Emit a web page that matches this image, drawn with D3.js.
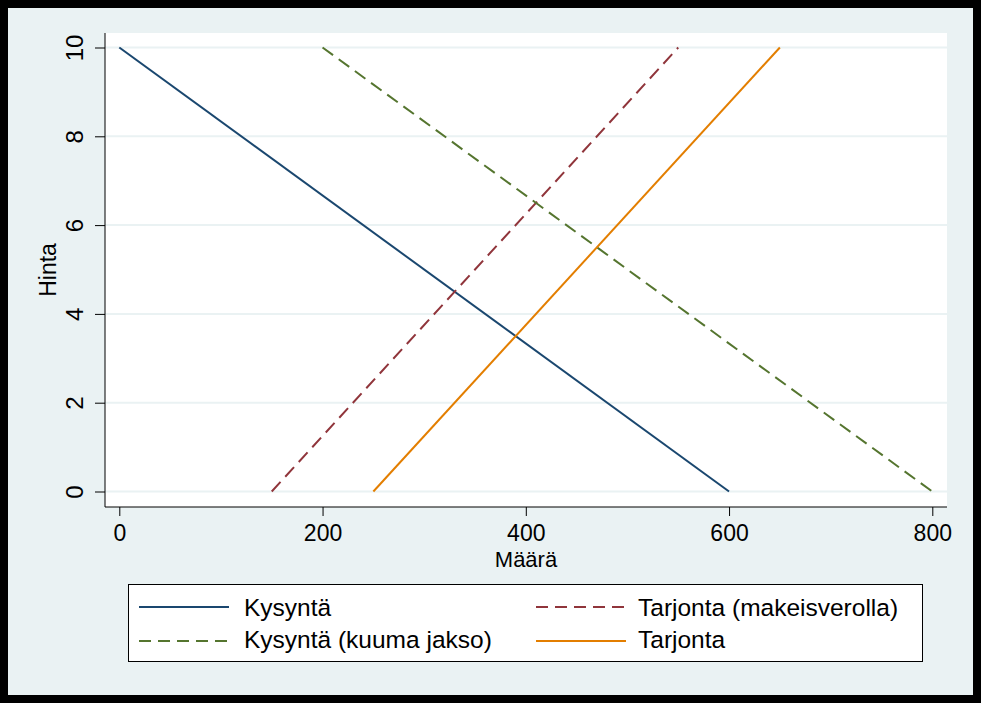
<!DOCTYPE html>
<html>
<head>
<meta charset="utf-8">
<script src="https://cdn.jsdelivr.net/npm/d3@7"></script>
<style>
  html, body { margin: 0; padding: 0; background: #000; }
  svg { display: block; }
  text { font-family: "Liberation Sans", Arial, sans-serif; fill: #000; }
</style>
</head>
<body>
<svg id="chart" width="981" height="703"></svg>
<script>
// Axis ticks
const priceTicks = [0, 2, 4, 6, 8, 10];
const qtyTicks = [0, 200, 400, 600, 800];

// Series (end points of each straight line)
const seriesNames = ['Kysyntä', 'Tarjonta (makeisverolla)', 'Kysyntä (kuuma jakso)', 'Tarjonta'];
const demandQ = [0, 600];
const demandP = [10, 0];
const taxSupplyQ = [150, 550];
const taxSupplyP = [0, 10];
const hotDemandQ = [200, 800];
const hotDemandP = [10, 0];
const supplyQ = [250, 650];
const supplyP = [0, 10];

const svg = d3.select('#chart');
const W = 981, H = 703;

// Stata s2color-ish styling
const styles = {
  'Kysyntä': { color: '#1a476f', dash: null },
  'Tarjonta (makeisverolla)': { color: '#90353b', dash: '13,7' },
  'Kysyntä (kuuma jakso)': { color: '#55752f', dash: '13,7' },
  'Tarjonta': { color: '#e37e00', dash: null }
};

const series = [
  { name: seriesNames[0], q: demandQ, p: demandP },
  { name: seriesNames[1], q: taxSupplyQ, p: taxSupplyP },
  { name: seriesNames[2], q: hotDemandQ, p: hotDemandP },
  { name: seriesNames[3], q: supplyQ, p: supplyP }
];

// outer frame + graph region
svg.append('rect').attr('width', W).attr('height', H).attr('fill', '#000');
svg.append('rect').attr('x', 8).attr('y', 8).attr('width', 965).attr('height', 687).attr('fill', '#eaf2f3');

const plot = { left: 105, right: 947, top: 33, bottom: 507 };
svg.append('rect').attr('x', plot.left).attr('y', plot.top)
  .attr('width', plot.right - plot.left).attr('height', plot.bottom - plot.top).attr('fill', '#fff');

const x = d3.scaleLinear().domain([0, 800]).range([119.3, 932.3]);
const y = d3.scaleLinear().domain([0, 10]).range([491.5, 47.5]);

// gridlines
svg.append('g').selectAll('line').data(priceTicks).join('line')
  .attr('x1', plot.left).attr('x2', plot.right)
  .attr('y1', d => y(d)).attr('y2', d => y(d))
  .attr('stroke', '#eaf2f3').attr('stroke-width', 2);

// y axis
const yAxis = svg.append('g').attr('transform', `translate(${plot.left},0)`)
  .call(d3.axisLeft(y).tickValues(priceTicks).tickSize(10).tickSizeOuter(0).tickFormat(d3.format('d')));
yAxis.select('.domain').attr('d', `M0,${plot.top}V${plot.bottom}`).attr('stroke', '#000');
yAxis.selectAll('.tick line').attr('stroke', '#000');
yAxis.selectAll('.tick text')
  .attr('x', null).attr('dy', null)
  .attr('transform', 'translate(-22,0) rotate(-90)')
  .attr('text-anchor', 'middle')
  .style('font-size', '24px');

// x axis
const xAxis = svg.append('g').attr('transform', `translate(0,${plot.bottom})`)
  .call(d3.axisBottom(x).tickValues(qtyTicks).tickSize(9).tickSizeOuter(0).tickFormat(d3.format('d')));
xAxis.select('.domain').attr('d', `M${plot.left},0H${plot.right}`).attr('stroke', '#000');
xAxis.selectAll('.tick line').attr('stroke', '#000');
xAxis.selectAll('.tick text').attr('y', 34).attr('dy', null).style('font-size', '23px');
svg.selectAll('.tick text').attr('font-family', null);

// axis titles
svg.append('text').attr('x', (plot.left + plot.right) / 2).attr('y', 567)
  .attr('text-anchor', 'middle').style('font-size', '22px').text('Määrä');
svg.append('text').attr('transform', `translate(56,${(plot.top + plot.bottom) / 2}) rotate(-90)`)
  .attr('text-anchor', 'middle').style('font-size', '23px').text('Hinta');

// lines
const line = d3.line().x(d => x(d[0])).y(d => y(d[1]));
svg.append('g').selectAll('path').data(series).join('path')
  .attr('d', s => line(s.q.map((q, i) => [q, s.p[i]])))
  .attr('fill', 'none')
  .attr('stroke', s => styles[s.name].color)
  .attr('stroke-width', 2)
  .attr('stroke-dasharray', s => styles[s.name].dash);

// legend
const legend = svg.append('g');
legend.append('rect').attr('x', 128.5).attr('y', 584.5).attr('width', 794).attr('height', 77)
  .attr('fill', '#fff').attr('stroke', '#000').attr('stroke-width', 1);

const legendPos = [
  { lx: 139, tx: 244, ly: 607, ty: 616 },
  { lx: 536, tx: 638, ly: 607, ty: 616 },
  { lx: 139, tx: 244, ly: 641, ty: 648 },
  { lx: 536, tx: 638, ly: 641, ty: 648 }
];
series.forEach((s, i) => {
  const p = legendPos[i];
  legend.append('line').attr('x1', p.lx).attr('x2', p.lx + 90)
    .attr('y1', p.ly).attr('y2', p.ly)
    .attr('stroke', styles[s.name].color).attr('stroke-width', 2)
    .attr('stroke-dasharray', styles[s.name].dash ? '12,7' : null);
  legend.append('text').attr('x', p.tx).attr('y', p.ty)
    .style('font-size', '24.5px').text(s.name);
});
</script>
</body>
</html>
